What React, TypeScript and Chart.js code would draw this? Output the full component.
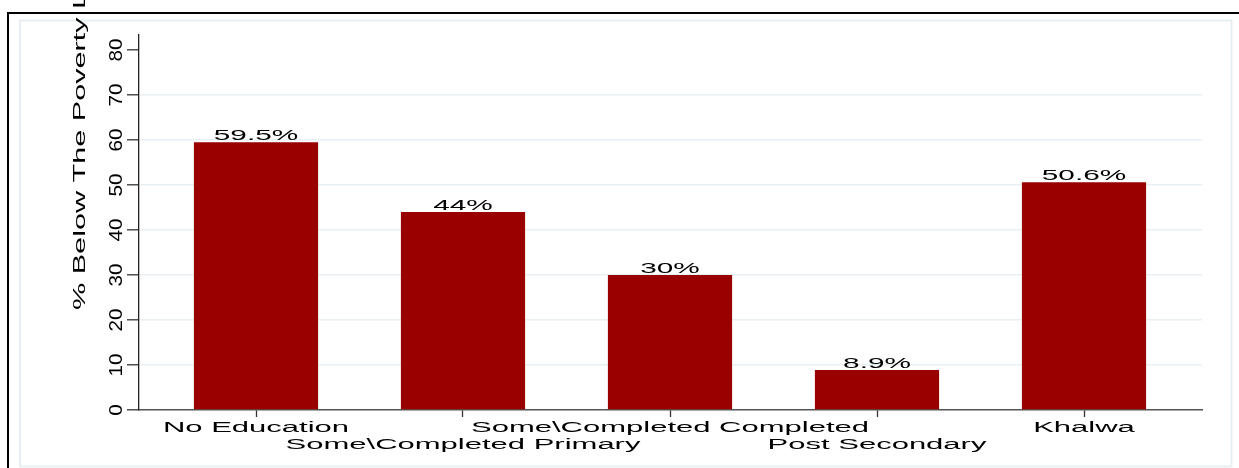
import React, { useEffect, useRef } from "react";
import { Chart, registerables } from "chart.js";

Chart.register(...registerables);

const categories = [
  "No Education",
  "Some\\Completed Primary",
  "Some\\Completed Completed",
  "Post Secondary",
  "Khalwa",
];
const povertyRates = [59.5, 44, 30, 8.9, 50.6];
const yTickValues = [0, 10, 20, 30, 40, 50, 60, 70, 80];
const yTitle = "% Below The Poverty Line";

const FONT = '"Liberation Sans", Arial, Helvetica, sans-serif';

const stataPlugin = {
  id: "stataText",
  beforeDraw(chart: any) {
    const ctx = chart.ctx;
    ctx.save();
    ctx.strokeStyle = "#000";
    ctx.lineWidth = 2;
    ctx.beginPath();
    ctx.moveTo(1239, 13);
    ctx.lineTo(8, 13);
    ctx.lineTo(8, 468);
    ctx.stroke();
    ctx.strokeStyle = "#e8eff2";
    ctx.lineWidth = 2;
    ctx.strokeRect(20, 20.5, 1211.5, 446);
    ctx.restore();
  },
  afterDraw(chart: any) {
    const ctx = chart.ctx;
    const xs = chart.scales.x;
    const ys = chart.scales.y;
    ctx.save();
    ctx.fillStyle = "#000";

    ctx.font = `18px ${FONT}`;
    ctx.textAlign = "center";
    ctx.textBaseline = "alphabetic";
    yTickValues.forEach((v) => {
      const y = ys.getPixelForValue(v);
      ctx.save();
      ctx.translate(121.5, y);
      ctx.rotate(-Math.PI / 2);
      ctx.scale(1.15, 1);
      ctx.fillText(String(v), 0, 0);
      ctx.restore();
    });

    ctx.save();
    ctx.font = `17px ${FONT}`;
    ctx.textAlign = "left";
    ctx.translate(85, 310);
    ctx.rotate(-Math.PI / 2);
    ctx.scale(1.8, 1);
    ctx.fillText(yTitle, 0, 0);
    ctx.restore();

    ctx.font = `15.5px ${FONT}`;
    ctx.textAlign = "center";
    categories.forEach((label, i) => {
      const x = xs.getPixelForValue(i);
      const y = i % 2 === 0 ? 432 : 449;
      ctx.save();
      ctx.translate(x, y);
      ctx.scale(2, 1);
      ctx.fillText(label, 0, 0);
      ctx.restore();
    });

    const meta = chart.getDatasetMeta(0);
    ctx.font = `15.5px ${FONT}`;
    meta.data.forEach((bar: any, i: number) => {
      ctx.save();
      ctx.translate(bar.x, bar.y - 2);
      ctx.scale(1.92, 1);
      ctx.fillText(`${povertyRates[i]}%`, 0, 0);
      ctx.restore();
    });
    ctx.restore();
  },
};

export default function App() {
  const ref = useRef<HTMLCanvasElement | null>(null);
  useEffect(() => {
    if (!ref.current) return;
    const chart = new Chart(ref.current, {
      type: "bar",
      data: {
        datasets: [
          {
            data: povertyRates.map((v, i) => ({ x: i, y: v })),
            backgroundColor: "#990000",
            borderWidth: 0,
            barPercentage: 0.6,
            categoryPercentage: 1,
          },
        ],
      },
      options: {
        animation: false,
        responsive: false,
        devicePixelRatio: 1,
        layout: { padding: { top: 35, right: 37, left: 0, bottom: 0 } },
        plugins: { legend: { display: false }, tooltip: { enabled: false } },
        scales: {
          x: {
            type: "linear",
            offset: false,
            min: (139 - 256) / 207,
            max: (1202 - 256) / 207,
            afterBuildTicks: (scale: any) => {
              scale.ticks = categories.map((_, i) => ({ value: i }));
            },
            afterFit: (scale: any) => {
              scale.height = 58;
            },
            ticks: { display: false },
            grid: {
              display: true,
              offset: false,
              drawOnChartArea: false,
              drawTicks: true,
              tickLength: 7,
              tickColor: "#333",
              tickWidth: 1.3,
            },
            border: { display: true, color: "#555", width: 1.4 },
          },
          y: {
            type: "linear",
            min: 0,
            max: 375 / 4.5,
            afterBuildTicks: (scale: any) => {
              scale.ticks = yTickValues.map((v) => ({ value: v }));
            },
            afterFit: (scale: any) => {
              scale.width = 139;
            },
            ticks: { display: false },
            grid: {
              display: true,
              color: (c: any) =>
                c.tick && (c.tick.value === 0 || c.tick.value === 80)
                  ? "rgba(0,0,0,0)"
                  : "#e9f0f3",
              lineWidth: 1.6,
              drawTicks: true,
              tickLength: 12,
              tickColor: "#333",
              tickWidth: 1.3,
            },
            border: { display: true, color: "#222", width: 1.3 },
          },
        },
      },
      plugins: [stataPlugin],
    });
    return () => chart.destroy();
  }, []);
  return (
    <div style={{ position: "fixed", left: 0, top: 0, width: 1239, height: 468, background: "#fff" }}>
      <canvas ref={ref} width={1239} height={468} style={{ display: "block" }} />
    </div>
  );
}
